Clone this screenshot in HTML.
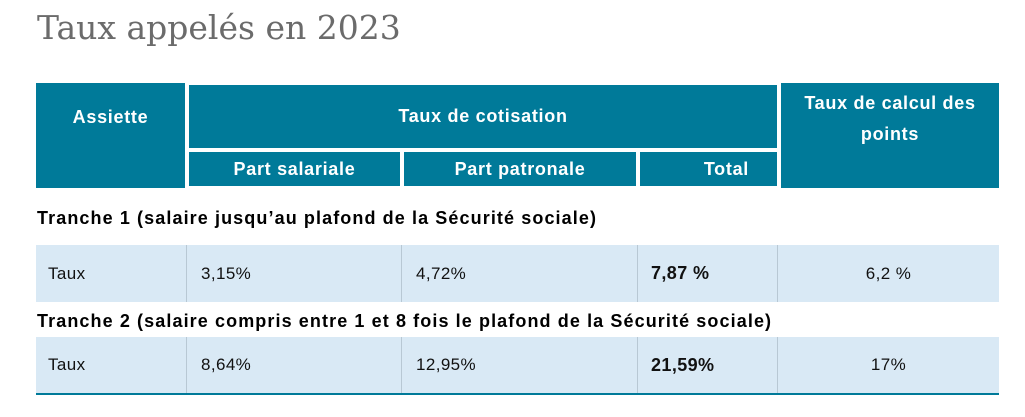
<!DOCTYPE html>
<html><head><meta charset="utf-8"><style>
body{margin:0;width:1025px;height:417px;background:#fff;position:relative;overflow:hidden;font-family:"Liberation Sans","DejaVu Sans",sans-serif}
.a{position:absolute;box-sizing:border-box}
.h{background:#007a99;color:#fff;font-weight:bold;font-size:18px;letter-spacing:0.7px;display:flex;align-items:center;justify-content:center;text-align:center}
.r{background:#d9e9f5}
.c{font-size:17px;letter-spacing:0.4px;color:#111;display:flex;align-items:center}
.v{border-left:1px solid #b8c8d4}
.t{font-weight:bold;font-size:18px;letter-spacing:1.1px;color:#000;white-space:nowrap}
</style></head><body>
<div class="a" style="left:37px;top:8px;font-family:'DejaVu Serif',serif;font-size:33px;color:#6b6b6b;white-space:nowrap">Taux appelés en 2023</div>

<div class="a h" style="left:36px;top:83px;width:149px;height:105px;align-items:flex-start;padding-top:24px">Assiette</div>
<div class="a h" style="left:189px;top:85px;width:588px;height:63px">Taux de cotisation</div>
<div class="a h" style="left:189px;top:152px;width:211px;height:34px">Part salariale</div>
<div class="a h" style="left:404px;top:152px;width:232px;height:34px">Part patronale</div>
<div class="a h" style="left:640px;top:152px;width:137px;height:34px;justify-content:flex-end;padding-right:28px">Total</div>
<div class="a h" style="left:781px;top:83px;width:218px;height:105px;align-items:flex-start;padding:5px 14px 0;line-height:31px">Taux de calcul des points</div>

<div class="a t" style="left:37px;top:208px">Tranche 1 (salaire jusqu’au plafond de la Sécurité sociale)</div>
<div class="a r" style="left:36px;top:245px;width:963px;height:57px"></div>
<div class="a c" style="left:36px;top:245px;width:150px;height:57px;padding-left:12px">Taux</div>
<div class="a c v" style="left:186px;top:245px;width:215px;height:57px;padding-left:14px">3,15%</div>
<div class="a c v" style="left:401px;top:245px;width:236px;height:57px;padding-left:14px">4,72%</div>
<div class="a c v" style="left:637px;top:245px;width:140px;height:57px;padding-left:13px;font-weight:bold;font-size:18px">7,87 %</div>
<div class="a c v" style="left:777px;top:245px;width:222px;height:57px;justify-content:center">6,2 %</div>

<div class="a t" style="left:37px;top:311px">Tranche 2 (salaire compris entre 1 et 8 fois le plafond de la Sécurité sociale)</div>
<div class="a r" style="left:36px;top:337px;width:963px;height:58px;border-bottom:2px solid #007a99"></div>
<div class="a c" style="left:36px;top:337px;width:150px;height:56px;padding-left:12px">Taux</div>
<div class="a c v" style="left:186px;top:337px;width:215px;height:56px;padding-left:14px">8,64%</div>
<div class="a c v" style="left:401px;top:337px;width:236px;height:56px;padding-left:14px">12,95%</div>
<div class="a c v" style="left:637px;top:337px;width:140px;height:56px;padding-left:13px;font-weight:bold;font-size:18px">21,59%</div>
<div class="a c v" style="left:777px;top:337px;width:222px;height:56px;justify-content:center">17%</div>
</body></html>
